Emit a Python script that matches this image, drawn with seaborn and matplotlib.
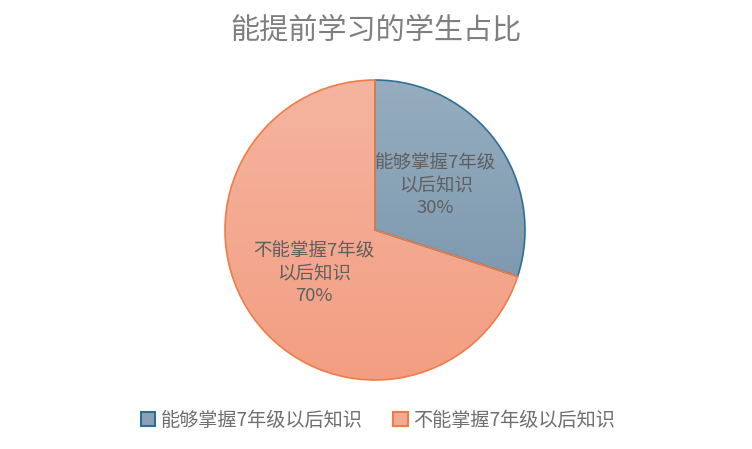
import matplotlib
matplotlib.use("Agg")
import matplotlib.pyplot as plt
import numpy as np
import seaborn as sns
from matplotlib.patches import Patch
from matplotlib.colors import LinearSegmentedColormap

categories = ["能够掌握7年级以后知识", "不能掌握7年级以后知识"]
label_lines = ["能够掌握7年级\n以后知识", "不能掌握7年级\n以后知识"]
values = [30, 70]
title = "能提前学习的学生占比"

sns.set_theme(style="white")
plt.rcParams['font.family'] = ['Noto Sans CJK SC', 'DejaVu Sans']

fill_colors = ["#8aa2b6", "#f4aa91"]
grad_top = ["#96adbf", "#f5b49f"]
grad_bottom = ["#7290a8", "#f39e82"]
edge_colors = ["#2f6f95", "#ee7d48"]

W, H = 752, 449
fig = plt.figure(figsize=(W / 100, H / 100), dpi=100)
cx, cy, r = 375, 230, 150
ax = fig.add_axes([(cx - r) / W, (H - cy - r) / H, 2 * r / W, 2 * r / H])

idx = {"i": 0}
def fmt(p):
    i = idx["i"]
    idx["i"] += 1
    return f"{label_lines[i]}\n{p:.0f}%"

wedges, texts, autotexts = ax.pie(
    values, colors=fill_colors, startangle=90, counterclock=False,
    autopct=fmt, pctdistance=0.5,
    wedgeprops=dict(linewidth=1.2),
    textprops=dict(color="#5f5f5f", fontsize=13.3, linespacing=1.3),
)
grad = np.linspace(0, 1, 256).reshape(-1, 1)
for w, ec, t, b in zip(wedges, edge_colors, grad_top, grad_bottom):
    w.set_edgecolor(ec)
    w.set_zorder(3)
    w.set_facecolor("none")
    cmap = LinearSegmentedColormap.from_list("g", [t, b])
    im = ax.imshow(grad, cmap=cmap, extent=(-1, 1, -1, 1), origin="upper",
                   aspect="auto", zorder=1, interpolation="bilinear")
    im.set_clip_path(w)
for t in autotexts:
    t.set_zorder(5)
ax.set_xlim(-1.0, 1.0)
ax.set_ylim(-1.0, 1.0)
ax.set_aspect("equal")
ax.axis("off")

fig.text(0.5, 1 - 30 / H, title, ha="center", va="center", fontsize=21, color="#7f7f7f")

handles = [Patch(facecolor=f, edgecolor=e, linewidth=1.5) for f, e in zip(fill_colors, edge_colors)]
fig.legend(handles, categories, loc="center", bbox_to_anchor=(378 / W, 1 - 420 / H),
           ncol=2, frameon=False, fontsize=13.8, labelcolor="#6f6f6f",
           handlelength=0.75, handleheight=0.75, handletextpad=0.3, columnspacing=1.6)

fig.savefig("out.png", dpi=100, facecolor="white")
